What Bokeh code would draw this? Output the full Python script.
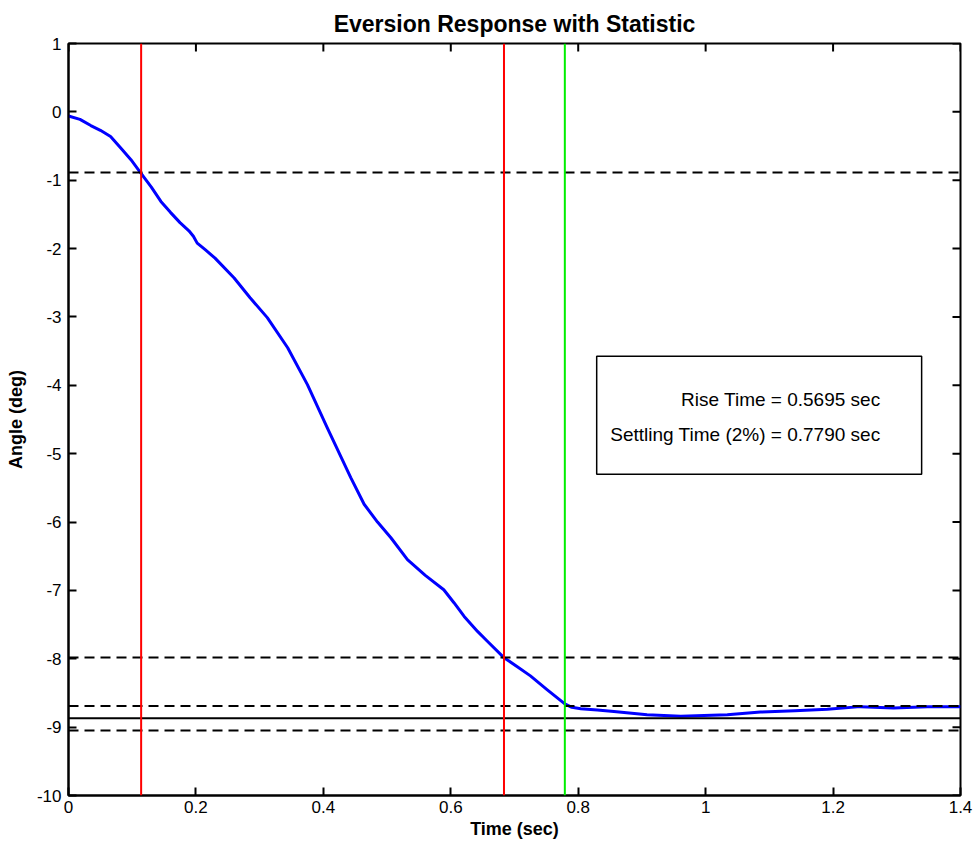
import math
from bokeh.plotting import figure
from bokeh.models import Range1d, FixedTicker, Span, BoxAnnotation, Label
from bokeh.embed import file_html
from bokeh.resources import INLINE

# ---- data ----
time_s = [0.000, 0.018, 0.035, 0.050, 0.066, 0.082, 0.098, 0.113, 0.130, 0.145,
          0.160, 0.175, 0.189, 0.196, 0.202, 0.215, 0.230, 0.260, 0.285, 0.312,
          0.344, 0.375, 0.406, 0.443, 0.464, 0.485, 0.506, 0.532, 0.560, 0.589,
          0.605, 0.621, 0.642, 0.657, 0.683, 0.705, 0.725, 0.751, 0.779, 0.790,
          0.804, 0.830, 0.856, 0.908, 0.961, 1.034, 1.086, 1.140, 1.191, 1.243,
          1.295, 1.348, 1.400]
angle_deg = [-0.06, -0.11, -0.20, -0.27, -0.36, -0.53, -0.70, -0.89, -1.10, -1.31,
             -1.47, -1.62, -1.74, -1.82, -1.92, -2.02, -2.14, -2.43, -2.72, -3.01,
             -3.45, -3.99, -4.62, -5.35, -5.74, -6.00, -6.23, -6.55, -6.78, -6.99,
             -7.18, -7.38, -7.60, -7.74, -7.98, -8.12, -8.25, -8.45, -8.66, -8.71,
             -8.73, -8.75, -8.77, -8.82, -8.84, -8.82, -8.78, -8.76, -8.74, -8.70,
             -8.72, -8.70, -8.70]

final_value = -8.87
rise_start = 0.114
rise_end = 0.6835
rise_time = 0.5695
settling_time = 0.7790
levels_frac = [0.1, 0.9, 0.98, 1.02]

x_min, x_max = 0, 1.4
y_min, y_max = -10, 1
x_ticks = [0, 0.2, 0.4, 0.6, 0.8, 1.0, 1.2, 1.4]
x_tick_labels = ["0", "0.2", "0.4", "0.6", "0.8", "1", "1.2", "1.4"]
y_ticks = [-10, -9, -8, -7, -6, -5, -4, -3, -2, -1, 0, 1]
y_tick_labels = ["-10", "-9", "-8", "-7", "-6", "-5", "-4", "-3", "-2", "-1", "0", "1"]

title_text = "Eversion Response with Statistic"
x_label = "Time (sec)"
y_label = "Angle (deg)"
box_lines = ["Rise Time = %.4f sec" % rise_time,
             "Settling Time (2%%) = %.4f sec" % settling_time]

FONT = "Liberation Sans"

p = figure(width=974, height=844, output_backend="svg", toolbar_location=None,
           x_range=Range1d(x_min, x_max), y_range=Range1d(y_min, y_max),
           min_border_left=68, min_border_right=14, min_border_top=43, min_border_bottom=49)

p.title.text = title_text
p.title.align = "center"
p.title.text_font = FONT
p.title.text_font_size = "23px"
p.title.text_font_style = "bold"
p.title.text_color = "black"
p.title.standoff = 13

p.xgrid.visible = False
p.ygrid.visible = False
p.outline_line_color = "black"
p.outline_line_width = 2
p.background_fill_color = "white"
p.border_fill_color = "white"


def style_axis(ax, ticks, labels):
    ax.ticker = FixedTicker(ticks=ticks)
    ax.major_label_overrides = {t: l for t, l in zip(ticks, labels)}
    ax.minor_tick_line_color = None
    ax.major_tick_in = 8
    ax.major_tick_out = 0
    ax.major_tick_line_width = 2
    ax.major_tick_line_color = "black"
    ax.axis_line_color = "black"
    ax.axis_line_width = 2
    ax.major_label_text_font = FONT
    ax.major_label_text_color = "black"
    ax.major_label_text_font_size = "17px"
    ax.axis_label_text_font = FONT
    ax.axis_label_text_font_size = "18px"
    ax.axis_label_text_font_style = "bold"
    ax.axis_label_text_color = "black"


style_axis(p.xaxis[0], x_ticks, x_tick_labels)
style_axis(p.yaxis[0], y_ticks, y_tick_labels)
p.xaxis.major_label_standoff = 5
p.yaxis.major_label_standoff = 7
p.xaxis.axis_label = x_label
p.yaxis.axis_label = y_label
p.xaxis.axis_label_standoff = 3
p.yaxis.axis_label_standoff = 8

# inward tick marks on the top and right edges of the box (clipped to the frame)
p.scatter(x_ticks, [y_max] * len(x_ticks), marker="dash", size=16, angle=math.pi / 2,
          line_color="black", line_width=2)
p.scatter([x_max] * len(y_ticks), y_ticks, marker="dash", size=16,
          line_color="black", line_width=2)

# horizontal reference levels
for frac in levels_frac:
    p.add_layout(Span(location=final_value * frac, dimension="width",
                      line_color="black", line_width=2, line_dash="10 6"))
p.add_layout(Span(location=final_value, dimension="width",
                  line_color="black", line_width=2))

# vertical markers
for t in (rise_start, rise_end):
    p.add_layout(Span(location=t, dimension="height", line_color="#ff0000", line_width=2))
p.add_layout(Span(location=settling_time, dimension="height", line_color="#00ee00", line_width=2))

# response curve
p.line(time_s, angle_deg, line_color="#0000ff", line_width=3, line_join="round")

# statistics box
p.add_layout(BoxAnnotation(left=0.829, right=1.339, top=-3.574, bottom=-5.30,
                           fill_color="white", fill_alpha=1.0,
                           line_color="black", line_width=1.5, line_alpha=1.0))
p.add_layout(Label(x=1.2744, y=-4.207, text=box_lines[0], text_align="right",
                   text_baseline="alphabetic", text_font=FONT, text_font_size="19px",
                   text_color="black"))
p.add_layout(Label(x=1.2744, y=-4.719, text=box_lines[1], text_align="right",
                   text_baseline="alphabetic", text_font=FONT, text_font_size="19px",
                   text_color="black"))

open("out.html", "w").write(file_html(p, INLINE))
